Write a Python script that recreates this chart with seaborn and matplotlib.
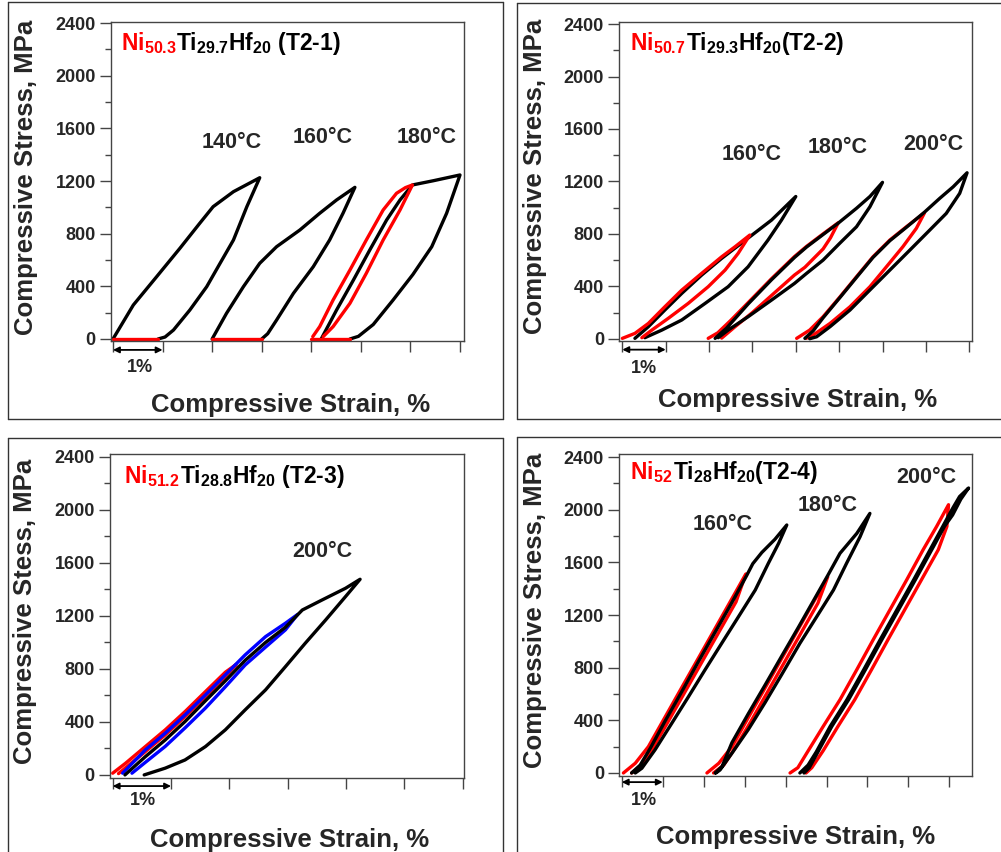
import seaborn as sns
import matplotlib.pyplot as plt
from matplotlib.lines import Line2D

sns.set_theme(style="ticks")
plt.rcParams['font.family'] = ['Liberation Sans', 'DejaVu Sans']
plt.rcParams['font.weight'] = 'bold'
plt.rcParams['mathtext.fontset'] = 'custom'
plt.rcParams['mathtext.bf'] = 'Liberation Sans:bold'
plt.rcParams['mathtext.rm'] = 'Liberation Sans:bold'

# ---- data: (strain %, stress MPa) ----
# T2-1
t21_140_black = [(0, 0), (0.41, 258), (0.88, 473), (1.35, 689), (1.75, 879), (2.02, 1005), (2.43, 1119),
                 (2.96, 1225), (2.70, 1005), (2.43, 752), (2.16, 575), (1.89, 397), (1.55, 220), (1.22, 68),
                 (1.05, 15), (0.91, 0)]
t21_140_red = [(0, 0), (0.91, 0)]
t21_160_black = [(2.0, 0), (2.29, 195), (2.63, 397), (2.96, 575), (3.30, 701), (3.77, 828), (4.17, 955),
                 (4.51, 1056), (4.88, 1152), (4.64, 955), (4.37, 752), (4.04, 549), (3.64, 347), (3.30, 144),
                 (3.12, 40), (3.0, 0)]
t21_160_red = [(2.0, 0), (3.0, 0)]
t21_180_black = [(4.20, 0), (4.51, 220), (4.85, 448), (5.18, 676), (5.52, 904), (5.79, 1056), (6.04, 1170),
                 (6.46, 1202), (7.0, 1246), (6.73, 955), (6.43, 701), (6.05, 490), (5.65, 296), (5.25, 110),
                 (4.95, 20), (4.78, 0)]
t21_180_red = [(4.03, 18), (4.17, 94), (4.44, 296), (4.78, 524), (5.11, 752), (5.45, 980), (5.72, 1107),
               (5.90, 1150), (6.04, 1170), (5.79, 980), (5.45, 752), (5.11, 499), (4.78, 271), (4.44, 94),
               (4.24, 18)]
t21_180_red_flat = [(4.0, 0), (4.78, 0)]

# T2-2
t22_160_black = [(0.29, 3), (0.60, 92), (0.98, 219), (1.37, 346), (1.83, 486), (2.29, 613), (2.94, 778),
                 (3.44, 905), (4.0, 1085), (3.67, 905), (3.36, 753), (2.90, 549), (2.44, 397), (1.91, 270),
                 (1.37, 143), (0.91, 66), (0.52, 8)]
t22_160_red = [(0, 3), (0.29, 41), (0.60, 117), (0.98, 244), (1.37, 371), (1.83, 499), (2.29, 625),
               (2.60, 702), (2.94, 791), (2.67, 651), (2.37, 524), (1.98, 397), (1.52, 270), (1.06, 156),
               (0.68, 66), (0.45, 8)]
t22_180_black = [(2.14, 3), (2.4, 80), (2.9, 265), (3.44, 450), (3.97, 620), (4.25, 700), (4.63, 795),
                 (4.98, 882), (5.4, 995), (5.71, 1085), (6.0, 1193), (5.71, 1007), (5.40, 854), (5.01, 727),
                 (4.63, 600), (4.25, 499), (3.97, 422), (3.44, 295), (2.90, 168), (2.44, 66), (2.21, 8)]
t22_180_red = [(1.98, 3), (2.2, 45), (2.5, 140), (2.9, 275), (3.44, 458), (3.97, 627), (4.25, 705),
               (4.63, 800), (4.98, 885), (4.80, 770), (4.63, 685), (4.21, 545), (3.97, 486), (3.44, 330),
               (3.0, 200), (2.6, 92), (2.29, 5)]
t22_200_black = [(4.21, 3), (4.40, 60), (4.63, 160), (5.02, 315), (5.40, 468), (5.78, 620), (6.17, 748),
                 (6.55, 850), (6.97, 966), (7.32, 1071), (7.63, 1159), (7.95, 1266), (7.78, 1109), (7.47, 956),
                 (7.09, 829), (6.63, 676), (6.17, 524), (5.71, 372), (5.25, 219), (4.79, 92), (4.48, 15),
                 (4.32, 0)]
t22_200_red = [(4.02, 3), (4.32, 66), (4.63, 168), (5.02, 320), (5.40, 473), (5.78, 625), (6.17, 753),
               (6.55, 854), (6.97, 961), (6.78, 842), (6.47, 702), (6.09, 549), (5.71, 397), (5.25, 244),
               (4.79, 117), (4.40, 28), (4.24, 3)]

# T2-3
t23_red = [(0, 13), (0.22, 88), (0.56, 214), (0.90, 340), (1.24, 478), (1.59, 629), (1.93, 775), (2.12, 835),
           (1.93, 742), (1.59, 591), (1.24, 440), (0.90, 302), (0.56, 176), (0.28, 75), (0.10, 10)]
t23_blue = [(0.17, 13), (0.56, 189), (0.90, 315), (1.24, 453), (1.59, 604), (1.93, 755), (2.27, 906),
            (2.62, 1044), (2.96, 1145), (3.17, 1212), (2.96, 1095), (2.62, 965), (2.27, 830), (1.93, 665),
            (1.59, 505), (1.24, 355), (0.90, 215), (0.56, 95), (0.33, 13)]
t23_black = [(0.21, 0), (0.56, 138), (0.90, 264), (1.24, 403), (1.59, 560), (1.93, 710), (2.27, 865),
             (2.62, 1000), (2.96, 1115), (3.25, 1245), (3.59, 1321), (3.99, 1409), (4.24, 1477), (3.99, 1346),
             (3.65, 1170), (3.30, 994), (2.96, 817), (2.62, 642), (2.27, 491), (1.93, 340), (1.59, 214),
             (1.24, 113), (0.90, 51), (0.54, 0)]

# T2-4
t24_160_black = [(0.24, 0), (0.45, 60), (0.70, 190), (1.06, 395), (1.47, 620), (1.87, 845), (2.28, 1070),
                 (2.69, 1295), (3.05, 1500), (3.20, 1590), (3.42, 1675), (3.74, 1775), (4.03, 1884),
                 (3.83, 1744), (3.58, 1593), (3.26, 1390), (2.85, 1187), (2.44, 985), (2.03, 782), (1.63, 580),
                 (1.22, 377), (0.81, 175), (0.49, 36), (0.33, 0)]
t24_160_red = [(0.04, 0), (0.33, 74), (0.65, 200), (1.06, 426), (1.47, 652), (1.87, 872), (2.28, 1098),
               (2.69, 1324), (3.03, 1512), (2.79, 1300), (2.38, 1075), (1.97, 850), (1.56, 625), (1.15, 400),
               (0.79, 205), (0.49, 60), (0.24, 0)]
t24_180_black = [(2.28, 0), (2.45, 50), (2.69, 230), (3.09, 450), (3.50, 668), (3.91, 890), (4.32, 1110),
                 (4.73, 1335), (5.03, 1500), (5.33, 1669), (5.74, 1820), (6.06, 1972), (5.82, 1795),
                 (5.49, 1593), (5.17, 1390), (4.76, 1187), (4.35, 985), (3.91, 750), (3.50, 535), (3.09, 330),
                 (2.69, 150), (2.40, 23), (2.30, 0)]
t24_180_red = [(2.08, 0), (2.37, 74), (2.69, 200), (3.10, 426), (3.51, 652), (3.91, 872), (4.32, 1098),
               (4.73, 1324), (5.03, 1490), (4.79, 1290), (4.38, 1065), (3.97, 840), (3.56, 615), (3.15, 390),
               (2.79, 200), (2.49, 60), (2.24, 0)]
t24_200_black = [(4.35, 0), (4.55, 60), (4.75, 160), (5.09, 354), (5.50, 557), (5.91, 785), (6.31, 1012),
                 (6.72, 1240), (7.13, 1468), (7.53, 1696), (7.84, 1873), (8.08, 2010), (8.25, 2100),
                 (8.47, 2165), (8.28, 2080), (8.08, 1960), (7.88, 1873), (7.57, 1696), (7.17, 1468),
                 (6.76, 1240), (6.35, 1012), (5.95, 785), (5.54, 557), (5.13, 354), (4.79, 160), (4.58, 40),
                 (4.45, 0)]
t24_200_red = [(4.11, 0), (4.30, 40), (4.52, 152), (4.92, 354), (5.33, 557), (5.74, 785), (6.14, 1012),
               (6.55, 1240), (6.96, 1468), (7.36, 1696), (7.69, 1873), (7.98, 2038), (7.94, 1873),
               (7.73, 1696), (7.32, 1468), (6.91, 1240), (6.50, 1012), (6.10, 785), (5.69, 557), (5.28, 354),
               (4.92, 170), (4.64, 40), (4.50, 0)]

titles_red = [r'$\mathbf{Ni_{50.3}}$', r'$\mathbf{Ni_{50.7}}$', r'$\mathbf{Ni_{51.2}}$', r'$\mathbf{Ni_{52}}$']
titles_black = [r'$\mathbf{Ti_{29.7}Hf_{20}}$ (T2-1)', r'$\mathbf{Ti_{29.3}Hf_{20}}$(T2-2)',
                r'$\mathbf{Ti_{28.8}Hf_{20}}$ (T2-3)', r'$\mathbf{Ti_{28}Hf_{20}}$(T2-4)']
ylabels = ['Compressive Stress, MPa', 'Compressive Stress, MPa', 'Compressive Stess, MPa',
           'Compressive Stress, MPa']
temp_labels = [[('140°C', 2.40, 1496), ('160°C', 4.23, 1527), ('180°C', 6.33, 1527)],
               [('160°C', 2.97, 1408), ('180°C', 4.97, 1462), ('200°C', 7.18, 1485)],
               [('200°C', 3.60, 1683)],
               [('160°C', 2.47, 1884), ('180°C', 5.03, 2035), ('200°C', 7.43, 2248)]]
curves = [
    [(t21_140_black, 'black'), (t21_160_black, 'black'), (t21_180_black, 'black'),
     (t21_140_red, 'red'), (t21_160_red, 'red'), (t21_180_red, 'red'), (t21_180_red_flat, 'red')],
    [(t22_160_black, 'black'), (t22_160_red, 'red'), (t22_180_red, 'red'), (t22_180_black, 'black'),
     (t22_200_red, 'red'), (t22_200_black, 'black')],
    [(t23_red, 'red'), (t23_blue, 'blue'), (t23_black, 'black')],
    [(t24_160_red, 'red'), (t24_160_black, 'black'), (t24_180_red, 'red'), (t24_180_black, 'black'),
     (t24_200_red, 'red'), (t24_200_black, 'black')],
]

# layout of the four panels
rects = [(0.1109, 0.5998, 0.3526, 0.3744), (0.6187, 0.6001, 0.3526, 0.3744),
         (0.1099, 0.0869, 0.3536, 0.3803), (0.6187, 0.0892, 0.3526, 0.3779)]
xlims = [(-0.04, 7.08), (-0.07, 8.07), (-0.046, 6.02), (-0.06, 8.56)]
ylims = [(-15, 2408), (-15, 2418), (-23, 2423), (-23, 2423)]
nticks = [7, 8, 6, 8]
title_pos = [(0.027, 0.912), (0.031, 0.91), (0.04, 0.91), (0.031, 0.921)]
xlab_pos = [(0.51, -0.20), (0.506, -0.185), (0.508, -0.19), (0.498, -0.19)]
pct_pos = [(0.55, -0.082), (0.50, -0.088), (0.51, -0.071), (0.54, -0.075)]
arrow_y = [-0.028, -0.028, -0.025, -0.019]

W, H = 1001, 852
fig = plt.figure(figsize=(W / 100, H / 100), dpi=100)
axes = []
for i in range(4):
    ax = fig.add_axes(rects[i])
    axes.append(ax)
    for pts, col in curves[i]:
        xs = [p[0] for p in pts]
        ys = [p[1] for p in pts]
        sns.lineplot(x=xs, y=ys, sort=False, estimator=None, color=col, lw=2.4, ax=ax, legend=False)
    ax.set_xlim(*xlims[i])
    ax.set_ylim(*ylims[i])
    ax.set_xticks(range(nticks[i] + 1))
    ax.set_xticklabels([])
    ax.set_yticks(range(0, 2401, 400))
    ax.set_yticks(range(0, 2401, 200), minor=True)
    ax.set_yticklabels([str(v) for v in range(0, 2401, 400)], fontsize=13, fontweight='bold')
    ax.tick_params(axis='both', which='major', length=8, width=1, color='#444444', pad=3)
    ax.tick_params(axis='y', which='minor', length=4, width=1, color='#444444')
    ax.tick_params(axis='x', which='minor', length=0)
    for sp in ax.spines.values():
        sp.set_visible(True)
        sp.set_color('#444444')
        sp.set_linewidth(1)
    ax.set_xlabel('')
    ax.set_ylabel('')
    ax.text(xlab_pos[i][0], xlab_pos[i][1], 'Compressive Strain, %', transform=ax.transAxes,
            ha='center', va='center', fontsize=18.5, fontweight='bold')
    ax.text(-0.24, 0.514, ylabels[i], transform=ax.transAxes, rotation=90,
            ha='center', va='center', fontsize=18.5, fontweight='bold')
    for lab, sx, sy in temp_labels[i]:
        ax.text(sx, sy, lab, ha='center', va='center', fontsize=15.5, fontweight='bold')
    # 1% scale arrow
    ax.annotate('', xy=(1, arrow_y[i]), xytext=(0, arrow_y[i]), xycoords=ax.get_xaxis_transform(),
                textcoords=ax.get_xaxis_transform(), annotation_clip=False,
                arrowprops=dict(arrowstyle='<|-|>', color='black', lw=1.3, shrinkA=0, shrinkB=0,
                                mutation_scale=9))
    ax.text(pct_pos[i][0], pct_pos[i][1], '1%', transform=ax.get_xaxis_transform(),
            ha='center', va='center', fontsize=13, fontweight='bold')

# two-colour titles
fig.canvas.draw()
for i, ax in enumerate(axes):
    tx, ty = title_pos[i]
    t1 = ax.text(tx, ty, titles_red[i], transform=ax.transAxes, color='red', fontsize=16.5,
                 va='baseline', ha='left')
    fig.canvas.draw()
    bb = t1.get_window_extent()
    x2 = ax.transAxes.inverted().transform((bb.x1, bb.y0))[0]
    ax.text(x2, ty, titles_black[i], transform=ax.transAxes, color='black', fontsize=16.5,
            fontweight='bold', va='baseline', ha='left')

# panel frames (pixel coords from top-left)
frame_lines = [
    [(8, 2), (502.7, 2)], [(8, 2), (8, 419.3)], [(502.7, 2), (502.7, 419.3)], [(8, 419.3), (502.7, 419.3)],
    [(516.7, 2.7), (1001, 2.7)], [(516.7, 2.7), (516.7, 419.3)], [(516.7, 419.3), (1001, 419.3)],
    [(8, 437.7), (502.7, 437.7)], [(8, 437.7), (8, 852)], [(502.7, 437.7), (502.7, 852)],
    [(516.7, 436.7), (1001, 436.7)], [(516.7, 436.7), (516.7, 852)],
]
for (x0, y0), (x1, y1) in frame_lines:
    fig.add_artist(Line2D([x0 / W, x1 / W], [1 - y0 / H, 1 - y1 / H], transform=fig.transFigure,
                          color='#333333', lw=1))

fig.savefig('out.png', dpi=100)
